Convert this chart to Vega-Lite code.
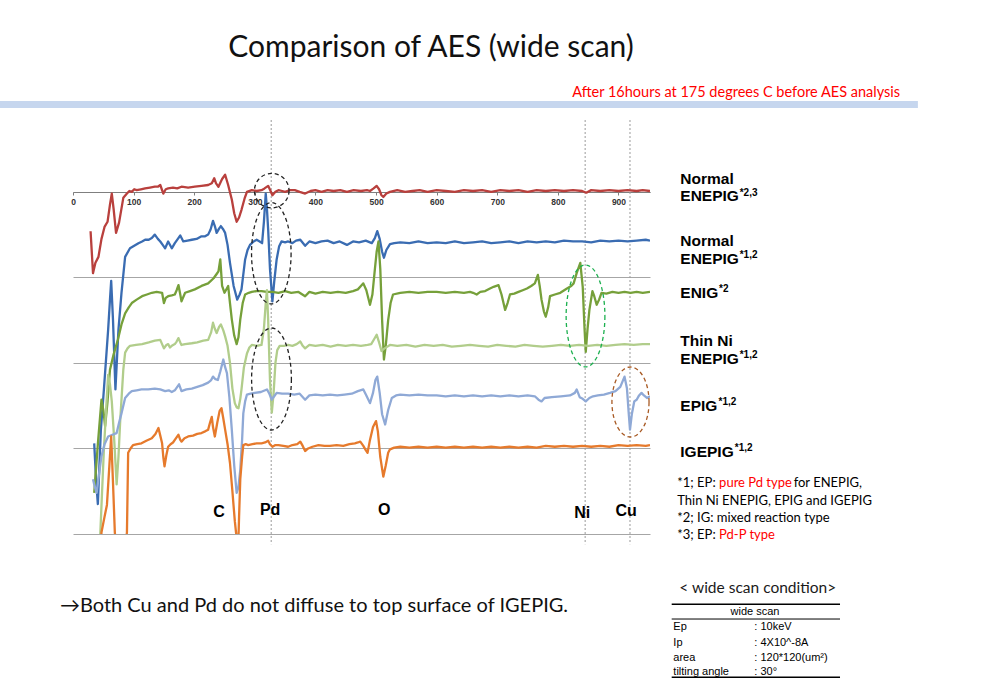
{
"$schema":"https://vega.github.io/schema/vega-lite/v6.json",
"autosize":{"type":"none"},
"width":577,"height":414,
"padding":{"left":73,"top":120,"right":348,"bottom":153},
"background":"white",
"config":{"view":{"stroke":null},"font":"Liberation Sans"},
"data":{"values":[{}]},
"resolve":{"axis":{"x":"independent","y":"independent"}},
"datasets":{
"curves":[
{"s":"NE23","x":29,"y":-0.46},{"s":"NE23","x":33,"y":-0.95},{"s":"NE23","x":37,"y":-0.83},{"s":"NE23","x":42,"y":-0.76},{"s":"NE23","x":47,"y":-0.55},{"s":"NE23","x":52,"y":-0.41},{"s":"NE23","x":57,"y":-0.35},{"s":"NE23","x":61,"y":-0.15},{"s":"NE23","x":64,"y":-0.02},{"s":"NE23","x":67,"y":-0.2},{"s":"NE23","x":71,"y":-0.48},{"s":"NE23","x":76,"y":-0.36},{"s":"NE23","x":83,"y":-0.07},{"s":"NE23","x":89,"y":-0.02},{"s":"NE23","x":93,"y":0.01},{"s":"NE23","x":97,"y":0.0},{"s":"NE23","x":101,"y":0.03},{"s":"NE23","x":105,"y":0.02},{"s":"NE23","x":112,"y":0.03},{"s":"NE23","x":119,"y":0.04},{"s":"NE23","x":127,"y":0.05},{"s":"NE23","x":135,"y":0.06},{"s":"NE23","x":140,"y":0.06},{"s":"NE23","x":144,"y":0.08},{"s":"NE23","x":149,"y":-0.02},{"s":"NE23","x":153,"y":0.03},{"s":"NE23","x":157,"y":0.04},{"s":"NE23","x":165,"y":0.05},{"s":"NE23","x":172,"y":0.04},{"s":"NE23","x":179,"y":0.06},{"s":"NE23","x":190,"y":0.05},{"s":"NE23","x":201,"y":0.06},{"s":"NE23","x":212,"y":0.07},{"s":"NE23","x":223,"y":0.08},{"s":"NE23","x":229,"y":0.1},{"s":"NE23","x":233,"y":0.16},{"s":"NE23","x":236,"y":0.1},{"s":"NE23","x":240,"y":0.06},{"s":"NE23","x":246,"y":0.15},{"s":"NE23","x":251,"y":0.2},{"s":"NE23","x":256,"y":0.08},{"s":"NE23","x":262,"y":-0.09},{"s":"NE23","x":266,"y":-0.25},{"s":"NE23","x":270,"y":-0.35},{"s":"NE23","x":274,"y":-0.3},{"s":"NE23","x":278,"y":-0.21},{"s":"NE23","x":283,"y":-0.08},{"s":"NE23","x":287,"y":0.0},{"s":"NE23","x":295,"y":0.02},{"s":"NE23","x":303,"y":0.01},{"s":"NE23","x":311,"y":0.02},{"s":"NE23","x":316,"y":0.04},{"s":"NE23","x":322,"y":0.07},{"s":"NE23","x":326,"y":0.01},{"s":"NE23","x":329,"y":-0.04},{"s":"NE23","x":334,"y":0.0},{"s":"NE23","x":339,"y":0.02},{"s":"NE23","x":345,"y":0.01},{"s":"NE23","x":350,"y":0.0},{"s":"NE23","x":358,"y":0.02},{"s":"NE23","x":366,"y":0.02},{"s":"NE23","x":374,"y":0.0},{"s":"NE23","x":383,"y":-0.02},{"s":"NE23","x":392,"y":0.01},{"s":"NE23","x":400,"y":0.02},{"s":"NE23","x":410,"y":0.0},{"s":"NE23","x":420,"y":0.02},{"s":"NE23","x":430,"y":0.01},{"s":"NE23","x":441,"y":0.02},{"s":"NE23","x":452,"y":0.0},{"s":"NE23","x":463,"y":0.02},{"s":"NE23","x":475,"y":0.01},{"s":"NE23","x":485,"y":0.02},{"s":"NE23","x":490,"y":0.01},{"s":"NE23","x":496,"y":0.04},{"s":"NE23","x":501,"y":0.07},{"s":"NE23","x":505,"y":0.03},{"s":"NE23","x":509,"y":-0.04},{"s":"NE23","x":512,"y":-0.06},{"s":"NE23","x":517,"y":-0.02},{"s":"NE23","x":523,"y":0.0},{"s":"NE23","x":535,"y":0.02},{"s":"NE23","x":548,"y":0.0},{"s":"NE23","x":560,"y":0.01},{"s":"NE23","x":572,"y":0.02},{"s":"NE23","x":585,"y":0.0},{"s":"NE23","x":600,"y":0.02},{"s":"NE23","x":615,"y":0.01},{"s":"NE23","x":630,"y":0.0},{"s":"NE23","x":645,"y":0.02},{"s":"NE23","x":660,"y":0.01},{"s":"NE23","x":675,"y":0.02},{"s":"NE23","x":690,"y":0.0},{"s":"NE23","x":705,"y":0.02},{"s":"NE23","x":720,"y":0.01},{"s":"NE23","x":735,"y":0.02},{"s":"NE23","x":750,"y":0.0},{"s":"NE23","x":765,"y":0.02},{"s":"NE23","x":780,"y":0.01},{"s":"NE23","x":795,"y":0.02},{"s":"NE23","x":810,"y":0.01},{"s":"NE23","x":825,"y":0.02},{"s":"NE23","x":840,"y":0.01},{"s":"NE23","x":847,"y":-0.01},{"s":"NE23","x":855,"y":0.02},{"s":"NE23","x":870,"y":0.01},{"s":"NE23","x":885,"y":0.02},{"s":"NE23","x":900,"y":0.01},{"s":"NE23","x":915,"y":0.02},{"s":"NE23","x":930,"y":0.01},{"s":"NE23","x":940,"y":0.02},{"s":"NE23","x":952,"y":0.01},
{"s":"NE12","x":35,"y":-2.94},{"s":"NE12","x":38,"y":-3.36},{"s":"NE12","x":41,"y":-3.65},{"s":"NE12","x":46,"y":-2.78},{"s":"NE12","x":51,"y":-2.31},{"s":"NE12","x":58,"y":-1.61},{"s":"NE12","x":61,"y":-1.26},{"s":"NE12","x":63,"y":-1.04},{"s":"NE12","x":66,"y":-1.5},{"s":"NE12","x":70,"y":-2.31},{"s":"NE12","x":75,"y":-1.61},{"s":"NE12","x":80,"y":-1.18},{"s":"NE12","x":86,"y":-0.76},{"s":"NE12","x":94,"y":-0.66},{"s":"NE12","x":101,"y":-0.63},{"s":"NE12","x":108,"y":-0.6},{"s":"NE12","x":114,"y":-0.58},{"s":"NE12","x":119,"y":-0.56},{"s":"NE12","x":125,"y":-0.56},{"s":"NE12","x":130,"y":-0.54},{"s":"NE12","x":135,"y":-0.5},{"s":"NE12","x":140,"y":-0.55},{"s":"NE12","x":144,"y":-0.58},{"s":"NE12","x":148,"y":-0.62},{"s":"NE12","x":152,"y":-0.66},{"s":"NE12","x":157,"y":-0.58},{"s":"NE12","x":163,"y":-0.66},{"s":"NE12","x":168,"y":-0.6},{"s":"NE12","x":173,"y":-0.55},{"s":"NE12","x":177,"y":-0.51},{"s":"NE12","x":182,"y":-0.58},{"s":"NE12","x":189,"y":-0.57},{"s":"NE12","x":196,"y":-0.56},{"s":"NE12","x":204,"y":-0.55},{"s":"NE12","x":212,"y":-0.52},{"s":"NE12","x":218,"y":-0.52},{"s":"NE12","x":223,"y":-0.5},{"s":"NE12","x":227,"y":-0.44},{"s":"NE12","x":231,"y":-0.34},{"s":"NE12","x":234,"y":-0.4},{"s":"NE12","x":237,"y":-0.48},{"s":"NE12","x":241,"y":-0.43},{"s":"NE12","x":244,"y":-0.4},{"s":"NE12","x":248,"y":-0.44},{"s":"NE12","x":251,"y":-0.48},{"s":"NE12","x":255,"y":-0.62},{"s":"NE12","x":259,"y":-0.83},{"s":"NE12","x":265,"y":-1.1},{"s":"NE12","x":271,"y":-1.26},{"s":"NE12","x":275,"y":-1.2},{"s":"NE12","x":278,"y":-1.14},{"s":"NE12","x":284,"y":-0.79},{"s":"NE12","x":288,"y":-0.68},{"s":"NE12","x":292,"y":-0.62},{"s":"NE12","x":298,"y":-0.58},{"s":"NE12","x":303,"y":-0.56},{"s":"NE12","x":308,"y":-0.58},{"s":"NE12","x":312,"y":-0.6},{"s":"NE12","x":315,"y":-0.35},{"s":"NE12","x":318,"y":-0.02},{"s":"NE12","x":320,"y":-0.2},{"s":"NE12","x":322,"y":-0.44},{"s":"NE12","x":325,"y":-0.9},{"s":"NE12","x":329,"y":-1.28},{"s":"NE12","x":332,"y":-1.05},{"s":"NE12","x":336,"y":-0.79},{"s":"NE12","x":340,"y":-0.64},{"s":"NE12","x":344,"y":-0.58},{"s":"NE12","x":350,"y":-0.59},{"s":"NE12","x":355,"y":-0.58},{"s":"NE12","x":362,"y":-0.6},{"s":"NE12","x":368,"y":-0.57},{"s":"NE12","x":375,"y":-0.56},{"s":"NE12","x":383,"y":-0.63},{"s":"NE12","x":390,"y":-0.58},{"s":"NE12","x":400,"y":-0.6},{"s":"NE12","x":410,"y":-0.58},{"s":"NE12","x":420,"y":-0.57},{"s":"NE12","x":430,"y":-0.6},{"s":"NE12","x":440,"y":-0.58},{"s":"NE12","x":452,"y":-0.62},{"s":"NE12","x":462,"y":-0.58},{"s":"NE12","x":472,"y":-0.59},{"s":"NE12","x":483,"y":-0.57},{"s":"NE12","x":493,"y":-0.6},{"s":"NE12","x":498,"y":-0.54},{"s":"NE12","x":502,"y":-0.46},{"s":"NE12","x":506,"y":-0.55},{"s":"NE12","x":510,"y":-0.7},{"s":"NE12","x":513,"y":-0.77},{"s":"NE12","x":517,"y":-0.68},{"s":"NE12","x":523,"y":-0.61},{"s":"NE12","x":530,"y":-0.6},{"s":"NE12","x":540,"y":-0.59},{"s":"NE12","x":555,"y":-0.6},{"s":"NE12","x":570,"y":-0.58},{"s":"NE12","x":585,"y":-0.6},{"s":"NE12","x":600,"y":-0.59},{"s":"NE12","x":615,"y":-0.6},{"s":"NE12","x":630,"y":-0.58},{"s":"NE12","x":645,"y":-0.6},{"s":"NE12","x":660,"y":-0.59},{"s":"NE12","x":675,"y":-0.58},{"s":"NE12","x":690,"y":-0.6},{"s":"NE12","x":705,"y":-0.59},{"s":"NE12","x":720,"y":-0.58},{"s":"NE12","x":735,"y":-0.6},{"s":"NE12","x":750,"y":-0.58},{"s":"NE12","x":765,"y":-0.59},{"s":"NE12","x":780,"y":-0.58},{"s":"NE12","x":795,"y":-0.59},{"s":"NE12","x":810,"y":-0.57},{"s":"NE12","x":825,"y":-0.58},{"s":"NE12","x":840,"y":-0.58},{"s":"NE12","x":855,"y":-0.59},{"s":"NE12","x":870,"y":-0.57},{"s":"NE12","x":885,"y":-0.58},{"s":"NE12","x":900,"y":-0.57},{"s":"NE12","x":915,"y":-0.58},{"s":"NE12","x":930,"y":-0.57},{"s":"NE12","x":945,"y":-0.56},{"s":"NE12","x":952,"y":-0.57},
{"s":"ENIG","x":35,"y":-3.52},{"s":"ENIG","x":41,"y":-2.95},{"s":"ENIG","x":47,"y":-2.43},{"s":"ENIG","x":50,"y":-2.55},{"s":"ENIG","x":53,"y":-2.74},{"s":"ENIG","x":57,"y":-2.45},{"s":"ENIG","x":61,"y":-2.08},{"s":"ENIG","x":67,"y":-1.9},{"s":"ENIG","x":74,"y":-1.73},{"s":"ENIG","x":80,"y":-1.55},{"s":"ENIG","x":86,"y":-1.42},{"s":"ENIG","x":92,"y":-1.35},{"s":"ENIG","x":97,"y":-1.3},{"s":"ENIG","x":105,"y":-1.26},{"s":"ENIG","x":114,"y":-1.22},{"s":"ENIG","x":122,"y":-1.2},{"s":"ENIG","x":130,"y":-1.18},{"s":"ENIG","x":138,"y":-1.17},{"s":"ENIG","x":147,"y":-1.18},{"s":"ENIG","x":150,"y":-1.3},{"s":"ENIG","x":153,"y":-1.24},{"s":"ENIG","x":157,"y":-1.22},{"s":"ENIG","x":163,"y":-1.21},{"s":"ENIG","x":168,"y":-1.2},{"s":"ENIG","x":171,"y":-1.15},{"s":"ENIG","x":174,"y":-1.09},{"s":"ENIG","x":177,"y":-1.2},{"s":"ENIG","x":179,"y":-1.28},{"s":"ENIG","x":182,"y":-1.23},{"s":"ENIG","x":185,"y":-1.18},{"s":"ENIG","x":193,"y":-1.16},{"s":"ENIG","x":201,"y":-1.14},{"s":"ENIG","x":212,"y":-1.1},{"s":"ENIG","x":223,"y":-1.07},{"s":"ENIG","x":232,"y":-1.01},{"s":"ENIG","x":237,"y":-0.96},{"s":"ENIG","x":240,"y":-0.93},{"s":"ENIG","x":243,"y":-0.79},{"s":"ENIG","x":246,"y":-1.1},{"s":"ENIG","x":250,"y":-1.18},{"s":"ENIG","x":256,"y":-1.1},{"s":"ENIG","x":259,"y":-1.3},{"s":"ENIG","x":262,"y":-1.49},{"s":"ENIG","x":266,"y":-1.68},{"s":"ENIG","x":270,"y":-1.78},{"s":"ENIG","x":273,"y":-1.7},{"s":"ENIG","x":276,"y":-1.49},{"s":"ENIG","x":280,"y":-1.3},{"s":"ENIG","x":284,"y":-1.2},{"s":"ENIG","x":290,"y":-1.18},{"s":"ENIG","x":295,"y":-1.17},{"s":"ENIG","x":303,"y":-1.16},{"s":"ENIG","x":311,"y":-1.16},{"s":"ENIG","x":320,"y":-1.17},{"s":"ENIG","x":329,"y":-1.17},{"s":"ENIG","x":339,"y":-1.18},{"s":"ENIG","x":350,"y":-1.16},{"s":"ENIG","x":360,"y":-1.18},{"s":"ENIG","x":372,"y":-1.17},{"s":"ENIG","x":383,"y":-1.22},{"s":"ENIG","x":390,"y":-1.17},{"s":"ENIG","x":400,"y":-1.19},{"s":"ENIG","x":412,"y":-1.17},{"s":"ENIG","x":425,"y":-1.18},{"s":"ENIG","x":437,"y":-1.17},{"s":"ENIG","x":450,"y":-1.18},{"s":"ENIG","x":462,"y":-1.16},{"s":"ENIG","x":470,"y":-1.14},{"s":"ENIG","x":475,"y":-1.1},{"s":"ENIG","x":479,"y":-1.07},{"s":"ENIG","x":484,"y":-1.15},{"s":"ENIG","x":490,"y":-1.32},{"s":"ENIG","x":494,"y":-1.2},{"s":"ENIG","x":498,"y":-0.91},{"s":"ENIG","x":501,"y":-0.7},{"s":"ENIG","x":504,"y":-0.58},{"s":"ENIG","x":507,"y":-0.9},{"s":"ENIG","x":510,"y":-1.5},{"s":"ENIG","x":513,"y":-1.96},{"s":"ENIG","x":516,"y":-1.8},{"s":"ENIG","x":520,"y":-1.5},{"s":"ENIG","x":524,"y":-1.3},{"s":"ENIG","x":528,"y":-1.2},{"s":"ENIG","x":540,"y":-1.18},{"s":"ENIG","x":555,"y":-1.17},{"s":"ENIG","x":570,"y":-1.18},{"s":"ENIG","x":585,"y":-1.17},{"s":"ENIG","x":600,"y":-1.17},{"s":"ENIG","x":615,"y":-1.18},{"s":"ENIG","x":630,"y":-1.17},{"s":"ENIG","x":645,"y":-1.18},{"s":"ENIG","x":655,"y":-1.17},{"s":"ENIG","x":660,"y":-1.18},{"s":"ENIG","x":666,"y":-1.2},{"s":"ENIG","x":672,"y":-1.17},{"s":"ENIG","x":680,"y":-1.16},{"s":"ENIG","x":688,"y":-1.13},{"s":"ENIG","x":694,"y":-1.11},{"s":"ENIG","x":702,"y":-1.09},{"s":"ENIG","x":707,"y":-1.2},{"s":"ENIG","x":713,"y":-1.38},{"s":"ENIG","x":717,"y":-1.3},{"s":"ENIG","x":721,"y":-1.2},{"s":"ENIG","x":728,"y":-1.19},{"s":"ENIG","x":735,"y":-1.17},{"s":"ENIG","x":742,"y":-1.15},{"s":"ENIG","x":749,"y":-1.13},{"s":"ENIG","x":756,"y":-1.1},{"s":"ENIG","x":762,"y":-1.07},{"s":"ENIG","x":767,"y":-0.97},{"s":"ENIG","x":770,"y":-1.1},{"s":"ENIG","x":773,"y":-1.26},{"s":"ENIG","x":777,"y":-1.4},{"s":"ENIG","x":780,"y":-1.46},{"s":"ENIG","x":784,"y":-1.35},{"s":"ENIG","x":787,"y":-1.22},{"s":"ENIG","x":795,"y":-1.2},{"s":"ENIG","x":804,"y":-1.18},{"s":"ENIG","x":815,"y":-1.13},{"s":"ENIG","x":822,"y":-1.1},{"s":"ENIG","x":826,"y":-1.07},{"s":"ENIG","x":831,"y":-0.95},{"s":"ENIG","x":837,"y":-0.83},{"s":"ENIG","x":841,"y":-1.11},{"s":"ENIG","x":844,"y":-1.6},{"s":"ENIG","x":846,"y":-1.87},{"s":"ENIG","x":849,"y":-1.6},{"s":"ENIG","x":852,"y":-1.38},{"s":"ENIG","x":857,"y":-1.16},{"s":"ENIG","x":860,"y":-1.22},{"s":"ENIG","x":864,"y":-1.32},{"s":"ENIG","x":868,"y":-1.26},{"s":"ENIG","x":872,"y":-1.18},{"s":"ENIG","x":880,"y":-1.19},{"s":"ENIG","x":890,"y":-1.17},{"s":"ENIG","x":900,"y":-1.18},{"s":"ENIG","x":910,"y":-1.17},{"s":"ENIG","x":920,"y":-1.18},{"s":"ENIG","x":930,"y":-1.17},{"s":"ENIG","x":940,"y":-1.18},{"s":"ENIG","x":952,"y":-1.17},
{"s":"TN","x":43,"y":-4.3},{"s":"TN","x":45,"y":-4.0},{"s":"TN","x":48,"y":-3.5},{"s":"TN","x":51,"y":-3.01},{"s":"TN","x":55,"y":-2.5},{"s":"TN","x":58,"y":-2.14},{"s":"TN","x":61,"y":-2.25},{"s":"TN","x":64,"y":-2.45},{"s":"TN","x":68,"y":-2.9},{"s":"TN","x":72,"y":-3.42},{"s":"TN","x":75,"y":-3.1},{"s":"TN","x":78,"y":-2.66},{"s":"TN","x":83,"y":-2.08},{"s":"TN","x":86,"y":-1.88},{"s":"TN","x":90,"y":-1.83},{"s":"TN","x":94,"y":-1.8},{"s":"TN","x":104,"y":-1.79},{"s":"TN","x":114,"y":-1.78},{"s":"TN","x":125,"y":-1.76},{"s":"TN","x":135,"y":-1.74},{"s":"TN","x":144,"y":-1.73},{"s":"TN","x":147,"y":-1.78},{"s":"TN","x":150,"y":-1.83},{"s":"TN","x":154,"y":-1.79},{"s":"TN","x":157,"y":-1.78},{"s":"TN","x":160,"y":-1.82},{"s":"TN","x":163,"y":-1.8},{"s":"TN","x":168,"y":-1.78},{"s":"TN","x":171,"y":-1.75},{"s":"TN","x":174,"y":-1.71},{"s":"TN","x":177,"y":-1.76},{"s":"TN","x":179,"y":-1.79},{"s":"TN","x":185,"y":-1.78},{"s":"TN","x":196,"y":-1.77},{"s":"TN","x":205,"y":-1.76},{"s":"TN","x":215,"y":-1.74},{"s":"TN","x":223,"y":-1.73},{"s":"TN","x":228,"y":-1.64},{"s":"TN","x":231,"y":-1.53},{"s":"TN","x":234,"y":-1.6},{"s":"TN","x":237,"y":-1.65},{"s":"TN","x":241,"y":-1.58},{"s":"TN","x":244,"y":-1.55},{"s":"TN","x":248,"y":-1.62},{"s":"TN","x":251,"y":-1.69},{"s":"TN","x":255,"y":-1.8},{"s":"TN","x":259,"y":-2.0},{"s":"TN","x":263,"y":-2.3},{"s":"TN","x":267,"y":-2.47},{"s":"TN","x":270,"y":-2.52},{"s":"TN","x":273,"y":-2.53},{"s":"TN","x":276,"y":-2.42},{"s":"TN","x":278,"y":-2.31},{"s":"TN","x":282,"y":-2.05},{"s":"TN","x":287,"y":-1.89},{"s":"TN","x":291,"y":-1.82},{"s":"TN","x":295,"y":-1.79},{"s":"TN","x":303,"y":-1.8},{"s":"TN","x":311,"y":-1.79},{"s":"TN","x":315,"y":-1.6},{"s":"TN","x":318,"y":-1.3},{"s":"TN","x":320,"y":-1.15},{"s":"TN","x":322,"y":-1.5},{"s":"TN","x":325,"y":-2.2},{"s":"TN","x":328,"y":-2.58},{"s":"TN","x":331,"y":-2.35},{"s":"TN","x":334,"y":-2.0},{"s":"TN","x":337,"y":-1.85},{"s":"TN","x":341,"y":-1.8},{"s":"TN","x":348,"y":-1.8},{"s":"TN","x":355,"y":-1.79},{"s":"TN","x":362,"y":-1.8},{"s":"TN","x":369,"y":-1.78},{"s":"TN","x":375,"y":-1.75},{"s":"TN","x":379,"y":-1.8},{"s":"TN","x":383,"y":-1.83},{"s":"TN","x":390,"y":-1.79},{"s":"TN","x":400,"y":-1.8},{"s":"TN","x":412,"y":-1.79},{"s":"TN","x":425,"y":-1.81},{"s":"TN","x":437,"y":-1.79},{"s":"TN","x":450,"y":-1.8},{"s":"TN","x":462,"y":-1.79},{"s":"TN","x":475,"y":-1.8},{"s":"TN","x":486,"y":-1.79},{"s":"TN","x":492,"y":-1.78},{"s":"TN","x":497,"y":-1.72},{"s":"TN","x":501,"y":-1.67},{"s":"TN","x":505,"y":-1.76},{"s":"TN","x":509,"y":-1.86},{"s":"TN","x":514,"y":-1.83},{"s":"TN","x":523,"y":-1.79},{"s":"TN","x":535,"y":-1.8},{"s":"TN","x":550,"y":-1.79},{"s":"TN","x":565,"y":-1.81},{"s":"TN","x":580,"y":-1.79},{"s":"TN","x":595,"y":-1.8},{"s":"TN","x":610,"y":-1.79},{"s":"TN","x":625,"y":-1.81},{"s":"TN","x":640,"y":-1.8},{"s":"TN","x":655,"y":-1.79},{"s":"TN","x":670,"y":-1.8},{"s":"TN","x":685,"y":-1.81},{"s":"TN","x":700,"y":-1.79},{"s":"TN","x":715,"y":-1.8},{"s":"TN","x":730,"y":-1.81},{"s":"TN","x":745,"y":-1.79},{"s":"TN","x":760,"y":-1.8},{"s":"TN","x":775,"y":-1.81},{"s":"TN","x":790,"y":-1.8},{"s":"TN","x":805,"y":-1.79},{"s":"TN","x":820,"y":-1.8},{"s":"TN","x":835,"y":-1.79},{"s":"TN","x":850,"y":-1.8},{"s":"TN","x":865,"y":-1.79},{"s":"TN","x":880,"y":-1.8},{"s":"TN","x":895,"y":-1.79},{"s":"TN","x":910,"y":-1.78},{"s":"TN","x":925,"y":-1.79},{"s":"TN","x":940,"y":-1.78},{"s":"TN","x":952,"y":-1.78},
{"s":"EPIG","x":33,"y":-3.36},{"s":"EPIG","x":36,"y":-3.45},{"s":"EPIG","x":39,"y":-3.52},{"s":"EPIG","x":43,"y":-3.3},{"s":"EPIG","x":47,"y":-3.09},{"s":"EPIG","x":52,"y":-2.95},{"s":"EPIG","x":58,"y":-2.86},{"s":"EPIG","x":65,"y":-2.84},{"s":"EPIG","x":72,"y":-2.82},{"s":"EPIG","x":76,"y":-2.7},{"s":"EPIG","x":80,"y":-2.59},{"s":"EPIG","x":86,"y":-2.41},{"s":"EPIG","x":92,"y":-2.36},{"s":"EPIG","x":97,"y":-2.33},{"s":"EPIG","x":105,"y":-2.32},{"s":"EPIG","x":113,"y":-2.31},{"s":"EPIG","x":124,"y":-2.31},{"s":"EPIG","x":135,"y":-2.3},{"s":"EPIG","x":144,"y":-2.31},{"s":"EPIG","x":152,"y":-2.33},{"s":"EPIG","x":158,"y":-2.32},{"s":"EPIG","x":163,"y":-2.34},{"s":"EPIG","x":168,"y":-2.32},{"s":"EPIG","x":172,"y":-2.28},{"s":"EPIG","x":175,"y":-2.25},{"s":"EPIG","x":179,"y":-2.33},{"s":"EPIG","x":187,"y":-2.31},{"s":"EPIG","x":196,"y":-2.3},{"s":"EPIG","x":205,"y":-2.28},{"s":"EPIG","x":214,"y":-2.26},{"s":"EPIG","x":223,"y":-2.23},{"s":"EPIG","x":228,"y":-2.2},{"s":"EPIG","x":231,"y":-2.16},{"s":"EPIG","x":235,"y":-2.19},{"s":"EPIG","x":239,"y":-2.2},{"s":"EPIG","x":243,"y":-2.1},{"s":"EPIG","x":248,"y":-1.96},{"s":"EPIG","x":251,"y":-2.05},{"s":"EPIG","x":254,"y":-2.12},{"s":"EPIG","x":258,"y":-2.4},{"s":"EPIG","x":262,"y":-2.78},{"s":"EPIG","x":266,"y":-3.2},{"s":"EPIG","x":270,"y":-3.52},{"s":"EPIG","x":273,"y":-3.45},{"s":"EPIG","x":276,"y":-3.25},{"s":"EPIG","x":279,"y":-2.9},{"s":"EPIG","x":281,"y":-2.59},{"s":"EPIG","x":284,"y":-2.45},{"s":"EPIG","x":287,"y":-2.37},{"s":"EPIG","x":293,"y":-2.36},{"s":"EPIG","x":300,"y":-2.35},{"s":"EPIG","x":310,"y":-2.34},{"s":"EPIG","x":320,"y":-2.31},{"s":"EPIG","x":324,"y":-2.36},{"s":"EPIG","x":328,"y":-2.43},{"s":"EPIG","x":332,"y":-2.39},{"s":"EPIG","x":336,"y":-2.35},{"s":"EPIG","x":345,"y":-2.36},{"s":"EPIG","x":355,"y":-2.36},{"s":"EPIG","x":365,"y":-2.37},{"s":"EPIG","x":374,"y":-2.36},{"s":"EPIG","x":383,"y":-2.43},{"s":"EPIG","x":390,"y":-2.38},{"s":"EPIG","x":400,"y":-2.37},{"s":"EPIG","x":412,"y":-2.38},{"s":"EPIG","x":424,"y":-2.37},{"s":"EPIG","x":436,"y":-2.38},{"s":"EPIG","x":448,"y":-2.37},{"s":"EPIG","x":460,"y":-2.36},{"s":"EPIG","x":470,"y":-2.33},{"s":"EPIG","x":479,"y":-2.31},{"s":"EPIG","x":484,"y":-2.38},{"s":"EPIG","x":490,"y":-2.47},{"s":"EPIG","x":495,"y":-2.35},{"s":"EPIG","x":499,"y":-2.2},{"s":"EPIG","x":502,"y":-2.16},{"s":"EPIG","x":506,"y":-2.35},{"s":"EPIG","x":510,"y":-2.6},{"s":"EPIG","x":515,"y":-2.72},{"s":"EPIG","x":520,"y":-2.55},{"s":"EPIG","x":526,"y":-2.41},{"s":"EPIG","x":533,"y":-2.38},{"s":"EPIG","x":540,"y":-2.37},{"s":"EPIG","x":555,"y":-2.38},{"s":"EPIG","x":570,"y":-2.37},{"s":"EPIG","x":585,"y":-2.38},{"s":"EPIG","x":600,"y":-2.38},{"s":"EPIG","x":615,"y":-2.39},{"s":"EPIG","x":630,"y":-2.38},{"s":"EPIG","x":645,"y":-2.39},{"s":"EPIG","x":660,"y":-2.38},{"s":"EPIG","x":675,"y":-2.39},{"s":"EPIG","x":690,"y":-2.38},{"s":"EPIG","x":705,"y":-2.39},{"s":"EPIG","x":720,"y":-2.38},{"s":"EPIG","x":735,"y":-2.39},{"s":"EPIG","x":750,"y":-2.38},{"s":"EPIG","x":762,"y":-2.39},{"s":"EPIG","x":768,"y":-2.43},{"s":"EPIG","x":773,"y":-2.45},{"s":"EPIG","x":778,"y":-2.41},{"s":"EPIG","x":790,"y":-2.4},{"s":"EPIG","x":805,"y":-2.39},{"s":"EPIG","x":820,"y":-2.38},{"s":"EPIG","x":828,"y":-2.35},{"s":"EPIG","x":831,"y":-2.31},{"s":"EPIG","x":836,"y":-2.4},{"s":"EPIG","x":841,"y":-2.42},{"s":"EPIG","x":846,"y":-2.45},{"s":"EPIG","x":852,"y":-2.41},{"s":"EPIG","x":858,"y":-2.39},{"s":"EPIG","x":866,"y":-2.38},{"s":"EPIG","x":876,"y":-2.37},{"s":"EPIG","x":886,"y":-2.35},{"s":"EPIG","x":895,"y":-2.33},{"s":"EPIG","x":903,"y":-2.28},{"s":"EPIG","x":910,"y":-2.16},{"s":"EPIG","x":914,"y":-2.3},{"s":"EPIG","x":917,"y":-2.6},{"s":"EPIG","x":919,"y":-2.78},{"s":"EPIG","x":922,"y":-2.6},{"s":"EPIG","x":926,"y":-2.45},{"s":"EPIG","x":930,"y":-2.43},{"s":"EPIG","x":934,"y":-2.38},{"s":"EPIG","x":938,"y":-2.35},{"s":"EPIG","x":942,"y":-2.38},{"s":"EPIG","x":947,"y":-2.41},{"s":"EPIG","x":952,"y":-2.39},
{"s":"IG","x":45,"y":-4.3},{"s":"IG","x":47,"y":-3.98},{"s":"IG","x":52,"y":-3.8},{"s":"IG","x":56,"y":-3.66},{"s":"IG","x":60,"y":-3.2},{"s":"IG","x":63,"y":-2.86},{"s":"IG","x":66,"y":-3.4},{"s":"IG","x":69,"y":-3.98},{"s":"IG","x":73,"y":-4.3},{"s":"IG","x":84,"y":-4.3},{"s":"IG","x":89,"y":-3.98},{"s":"IG","x":91,"y":-3.05},{"s":"IG","x":95,"y":-3.0},{"s":"IG","x":99,"y":-2.96},{"s":"IG","x":106,"y":-2.95},{"s":"IG","x":113,"y":-2.94},{"s":"IG","x":121,"y":-2.91},{"s":"IG","x":130,"y":-2.88},{"s":"IG","x":136,"y":-2.83},{"s":"IG","x":141,"y":-2.76},{"s":"IG","x":144,"y":-2.85},{"s":"IG","x":147,"y":-2.94},{"s":"IG","x":149,"y":-3.1},{"s":"IG","x":151,"y":-3.21},{"s":"IG","x":154,"y":-3.08},{"s":"IG","x":157,"y":-2.98},{"s":"IG","x":161,"y":-2.95},{"s":"IG","x":165,"y":-2.93},{"s":"IG","x":170,"y":-2.88},{"s":"IG","x":174,"y":-2.84},{"s":"IG","x":177,"y":-2.9},{"s":"IG","x":179,"y":-2.92},{"s":"IG","x":184,"y":-2.88},{"s":"IG","x":190,"y":-2.86},{"s":"IG","x":198,"y":-2.85},{"s":"IG","x":205,"y":-2.83},{"s":"IG","x":212,"y":-2.82},{"s":"IG","x":218,"y":-2.8},{"s":"IG","x":223,"y":-2.78},{"s":"IG","x":226,"y":-2.7},{"s":"IG","x":229,"y":-2.63},{"s":"IG","x":231,"y":-2.75},{"s":"IG","x":234,"y":-2.86},{"s":"IG","x":238,"y":-2.7},{"s":"IG","x":242,"y":-2.56},{"s":"IG","x":245,"y":-2.53},{"s":"IG","x":248,"y":-2.65},{"s":"IG","x":251,"y":-2.78},{"s":"IG","x":255,"y":-2.95},{"s":"IG","x":259,"y":-3.17},{"s":"IG","x":263,"y":-3.5},{"s":"IG","x":267,"y":-3.85},{"s":"IG","x":270,"y":-4.05},{"s":"IG","x":272,"y":-4.3},{"s":"IG","x":274,"y":-3.8},{"s":"IG","x":276,"y":-3.36},{"s":"IG","x":279,"y":-3.1},{"s":"IG","x":281,"y":-2.96},{"s":"IG","x":285,"y":-2.95},{"s":"IG","x":289,"y":-2.96},{"s":"IG","x":296,"y":-2.95},{"s":"IG","x":303,"y":-2.94},{"s":"IG","x":311,"y":-2.94},{"s":"IG","x":317,"y":-2.93},{"s":"IG","x":322,"y":-2.91},{"s":"IG","x":325,"y":-2.95},{"s":"IG","x":329,"y":-2.98},{"s":"IG","x":334,"y":-2.96},{"s":"IG","x":339,"y":-2.96},{"s":"IG","x":347,"y":-2.97},{"s":"IG","x":355,"y":-2.98},{"s":"IG","x":362,"y":-2.96},{"s":"IG","x":370,"y":-2.95},{"s":"IG","x":375,"y":-2.92},{"s":"IG","x":379,"y":-2.97},{"s":"IG","x":383,"y":-3.03},{"s":"IG","x":388,"y":-3.0},{"s":"IG","x":395,"y":-2.98},{"s":"IG","x":405,"y":-2.96},{"s":"IG","x":415,"y":-2.97},{"s":"IG","x":424,"y":-2.97},{"s":"IG","x":435,"y":-2.96},{"s":"IG","x":446,"y":-2.97},{"s":"IG","x":456,"y":-2.95},{"s":"IG","x":465,"y":-2.94},{"s":"IG","x":470,"y":-2.93},{"s":"IG","x":474,"y":-2.92},{"s":"IG","x":479,"y":-2.97},{"s":"IG","x":483,"y":-3.02},{"s":"IG","x":486,"y":-3.05},{"s":"IG","x":490,"y":-2.9},{"s":"IG","x":495,"y":-2.75},{"s":"IG","x":500,"y":-2.68},{"s":"IG","x":503,"y":-2.8},{"s":"IG","x":507,"y":-3.1},{"s":"IG","x":512,"y":-3.33},{"s":"IG","x":516,"y":-3.2},{"s":"IG","x":520,"y":-3.05},{"s":"IG","x":523,"y":-3.01},{"s":"IG","x":530,"y":-2.99},{"s":"IG","x":540,"y":-2.98},{"s":"IG","x":555,"y":-2.99},{"s":"IG","x":570,"y":-2.98},{"s":"IG","x":585,"y":-2.99},{"s":"IG","x":600,"y":-2.98},{"s":"IG","x":615,"y":-2.99},{"s":"IG","x":630,"y":-2.98},{"s":"IG","x":645,"y":-2.99},{"s":"IG","x":660,"y":-2.98},{"s":"IG","x":675,"y":-2.99},{"s":"IG","x":690,"y":-2.98},{"s":"IG","x":705,"y":-2.99},{"s":"IG","x":720,"y":-2.98},{"s":"IG","x":735,"y":-2.99},{"s":"IG","x":750,"y":-2.98},{"s":"IG","x":765,"y":-2.99},{"s":"IG","x":780,"y":-2.97},{"s":"IG","x":795,"y":-2.98},{"s":"IG","x":810,"y":-2.97},{"s":"IG","x":825,"y":-2.98},{"s":"IG","x":840,"y":-2.97},{"s":"IG","x":855,"y":-2.98},{"s":"IG","x":870,"y":-2.97},{"s":"IG","x":885,"y":-2.98},{"s":"IG","x":900,"y":-2.96},{"s":"IG","x":915,"y":-2.97},{"s":"IG","x":930,"y":-2.96},{"s":"IG","x":945,"y":-2.97},{"s":"IG","x":952,"y":-2.96}
],
"peaks":[{"element":"Pd","line":327},{"element":"Ni","line":845},{"element":"Cu","line":919}]
},
"layer":[
{"mark":{"type":"rect","color":"#c6d6ee"},"encoding":{"x":{"datum":-121,"axis":null},"x2":{"datum":1394},"y":{"datum":1.062,"axis":null},"y2":{"datum":0.98}}},
{"data":{"name":"peaks"},"mark":{"type":"rule","color":"#9a9a9a","strokeWidth":1,"strokeDash":[2,2]},"encoding":{"x":{"field":"line","type":"quantitative","axis":null},"y":{"datum":0.84,"axis":null},"y2":{"datum":-4.12}}},
{"data":{"name":"curves"},"mark":{"type":"line","strokeWidth":2.3,"clip":true,"strokeJoin":"round"},
 "encoding":{
  "x":{"field":"x","type":"quantitative","scale":{"domain":[0,952],"nice":false,"zero":false},
       "axis":{"values":[0,100,200,300,400,500,600,700,800,900],"title":null,"grid":false,"offset":-342,"domainColor":"#7f7f7f","tickColor":"#7f7f7f","tickSize":3,"labelFontSize":8.5,"labelFontWeight":"bold","labelColor":"#333333","labelFont":"Liberation Sans","labelPadding":2,"labelFlush":false}},
  "y":{"field":"y","type":"quantitative","scale":{"domain":[-4,0.84],"nice":false,"zero":false},
       "axis":{"values":[-4,-3,-2,-1,0],"title":null,"grid":true,"gridColor":"#a6a6a6","gridWidth":1,"labels":false,"ticks":false,"domain":false}},
  "color":{"field":"s","type":"nominal","legend":null,
       "scale":{"domain":["NE23","NE12","ENIG","TN","EPIG","IG"],"range":["#b9403d","#3a6cb2","#76a03a","#b1cd8b","#8fa9d6","#e67a2c"]}}}},
{"mark":{"type":"point","shape":"circle","size":1195,"filled":false,"opacity":1,"stroke":"#222222","strokeWidth":1.3,"strokeDash":[4,3]},"encoding":{"x":{"datum":327.9,"axis":null},"y":{"datum":0.014,"axis":null}}},
{"mark":{"type":"point","shape":"M 0.39 0 C 0.39 0.5523 0.2154 1 0 1 C -0.2154 1 -0.39 0.5523 -0.39 0 C -0.39 -0.5523 -0.2154 -1 0 -1 C 0.2154 -1 0.39 -0.5523 0.39 0 Z","size":10282,"filled":false,"opacity":1,"stroke":"#222222","strokeWidth":1.3,"strokeDash":[4,3]},"encoding":{"x":{"datum":327.2,"axis":null},"y":{"datum":-0.718,"axis":null}}},
{"mark":{"type":"point","shape":"M 0.39 0 C 0.39 0.5523 0.2154 1 0 1 C -0.2154 1 -0.39 0.5523 -0.39 0 C -0.39 -0.5523 -0.2154 -1 0 -1 C 0.2154 -1 0.39 -0.5523 0.39 0 Z","size":10404,"filled":false,"opacity":1,"stroke":"#222222","strokeWidth":1.3,"strokeDash":[4,3]},"encoding":{"x":{"datum":327.5,"axis":null},"y":{"datum":-2.188,"axis":null}}},
{"mark":{"type":"point","shape":"M 0.38 0 C 0.38 0.5523 0.2099 1 0 1 C -0.2099 1 -0.38 0.5523 -0.38 0 C -0.38 -0.5523 -0.2099 -1 0 -1 C 0.2099 -1 0.38 -0.5523 0.38 0 Z","size":10404,"filled":false,"opacity":1,"stroke":"#1cb04f","strokeWidth":1.3,"strokeDash":[4,3]},"encoding":{"x":{"datum":845.6,"axis":null},"y":{"datum":-1.451,"axis":null}}},
{"mark":{"type":"point","shape":"M 0.53 0 C 0.53 0.5523 0.2927 1 0 1 C -0.2927 1 -0.53 0.5523 -0.53 0 C -0.53 -0.5523 -0.2927 -1 0 -1 C 0.2927 -1 0.53 -0.5523 0.53 0 Z","size":4900,"filled":false,"opacity":1,"stroke":"#a85a24","strokeWidth":1.3,"strokeDash":[4,3]},"encoding":{"x":{"datum":919.8,"axis":null},"y":{"datum":-2.457,"axis":null}}},
{"mark":{"type":"text","text":"Comparison of AES (wide scan)","align":"center","baseline":"middle","font":"Lato","fontSize":30,"color":"#111111"},"encoding":{"x":{"datum":590.7,"axis":null},"y":{"datum":1.682,"axis":null}}},
{"mark":{"type":"text","text":"After 16hours at 175 degrees C before AES analysis","align":"right","baseline":"middle","font":"Lato","fontSize":14.5,"color":"#ff0000"},"encoding":{"x":{"datum":1364.6,"axis":null},"y":{"datum":1.156,"axis":null}}},
{"mark":{"type":"text","text":"C","align":"center","baseline":"middle","fontSize":16,"fontWeight":"bold","color":"#000000"},"encoding":{"x":{"datum":240.9,"axis":null},"y":{"datum":-3.739,"axis":null}}},
{"mark":{"type":"text","text":"Pd","align":"center","baseline":"middle","fontSize":16,"fontWeight":"bold","color":"#000000"},"encoding":{"x":{"datum":325.2,"axis":null},"y":{"datum":-3.719,"axis":null}}},
{"mark":{"type":"text","text":"O","align":"center","baseline":"middle","fontSize":16,"fontWeight":"bold","color":"#000000"},"encoding":{"x":{"datum":513.6,"axis":null},"y":{"datum":-3.719,"axis":null}}},
{"mark":{"type":"text","text":"Ni","align":"center","baseline":"middle","fontSize":16,"fontWeight":"bold","color":"#000000"},"encoding":{"x":{"datum":840.1,"axis":null},"y":{"datum":-3.751,"axis":null}}},
{"mark":{"type":"text","text":"Cu","align":"center","baseline":"middle","fontSize":16,"fontWeight":"bold","color":"#000000"},"encoding":{"x":{"datum":912.5,"axis":null},"y":{"datum":-3.727,"axis":null}}},
{"mark":{"type":"text","text":"Normal","align":"left","baseline":"middle","fontSize":15.5,"fontWeight":"bold","color":"#000000"},"encoding":{"x":{"datum":1002,"axis":null},"y":{"datum":0.15,"axis":null}}},
{"mark":{"type":"text","text":"ENEPIG","align":"left","baseline":"middle","fontSize":15.5,"fontWeight":"bold","color":"#000000"},"encoding":{"x":{"datum":1002,"axis":null},"y":{"datum":-0.05,"axis":null}}},
{"mark":{"type":"text","text":"*2,3","align":"left","baseline":"middle","fontSize":10,"fontWeight":"bold","color":"#000000"},"encoding":{"x":{"datum":1100,"axis":null},"y":{"datum":-0.01,"axis":null}}},
{"mark":{"type":"text","text":"Normal","align":"left","baseline":"middle","fontSize":15.5,"fontWeight":"bold","color":"#000000"},"encoding":{"x":{"datum":1002,"axis":null},"y":{"datum":-0.57,"axis":null}}},
{"mark":{"type":"text","text":"ENEPIG","align":"left","baseline":"middle","fontSize":15.5,"fontWeight":"bold","color":"#000000"},"encoding":{"x":{"datum":1002,"axis":null},"y":{"datum":-0.78,"axis":null}}},
{"mark":{"type":"text","text":"*1,2","align":"left","baseline":"middle","fontSize":10,"fontWeight":"bold","color":"#000000"},"encoding":{"x":{"datum":1100,"axis":null},"y":{"datum":-0.74,"axis":null}}},
{"mark":{"type":"text","text":"ENIG","align":"left","baseline":"middle","fontSize":15.5,"fontWeight":"bold","color":"#000000"},"encoding":{"x":{"datum":1002,"axis":null},"y":{"datum":-1.18,"axis":null}}},
{"mark":{"type":"text","text":"*2","align":"left","baseline":"middle","fontSize":10,"fontWeight":"bold","color":"#000000"},"encoding":{"x":{"datum":1066,"axis":null},"y":{"datum":-1.14,"axis":null}}},
{"mark":{"type":"text","text":"Thin Ni","align":"left","baseline":"middle","fontSize":15.5,"fontWeight":"bold","color":"#000000"},"encoding":{"x":{"datum":1002,"axis":null},"y":{"datum":-1.74,"axis":null}}},
{"mark":{"type":"text","text":"ENEPIG","align":"left","baseline":"middle","fontSize":15.5,"fontWeight":"bold","color":"#000000"},"encoding":{"x":{"datum":1002,"axis":null},"y":{"datum":-1.95,"axis":null}}},
{"mark":{"type":"text","text":"*1,2","align":"left","baseline":"middle","fontSize":10,"fontWeight":"bold","color":"#000000"},"encoding":{"x":{"datum":1100,"axis":null},"y":{"datum":-1.91,"axis":null}}},
{"mark":{"type":"text","text":"EPIG","align":"left","baseline":"middle","fontSize":15.5,"fontWeight":"bold","color":"#000000"},"encoding":{"x":{"datum":1002,"axis":null},"y":{"datum":-2.5,"axis":null}}},
{"mark":{"type":"text","text":"*1,2","align":"left","baseline":"middle","fontSize":10,"fontWeight":"bold","color":"#000000"},"encoding":{"x":{"datum":1065,"axis":null},"y":{"datum":-2.46,"axis":null}}},
{"mark":{"type":"text","text":"IGEPIG","align":"left","baseline":"middle","fontSize":15.5,"fontWeight":"bold","color":"#000000"},"encoding":{"x":{"datum":1002,"axis":null},"y":{"datum":-3.04,"axis":null}}},
{"mark":{"type":"text","text":"*1,2","align":"left","baseline":"middle","fontSize":10,"fontWeight":"bold","color":"#000000"},"encoding":{"x":{"datum":1092,"axis":null},"y":{"datum":-3.0,"axis":null}}},
{"mark":{"type":"text","text":"*1; EP:","align":"left","baseline":"middle","font":"Lato","fontSize":13,"color":"#000000"},"encoding":{"x":{"datum":997,"axis":null},"y":{"datum":-3.407,"axis":null}}},
{"mark":{"type":"text","text":"pure Pd type","align":"left","baseline":"middle","font":"Lato","fontSize":13,"color":"#ff0000"},"encoding":{"x":{"datum":1066,"axis":null},"y":{"datum":-3.407,"axis":null}}},
{"mark":{"type":"text","text":"for ENEPIG,","align":"left","baseline":"middle","font":"Lato","fontSize":13,"color":"#000000"},"encoding":{"x":{"datum":1189,"axis":null},"y":{"datum":-3.407,"axis":null}}},
{"mark":{"type":"text","text":"Thin Ni ENEPIG, EPIG and IGEPIG","align":"left","baseline":"middle","font":"Lato","fontSize":13,"color":"#000000"},"encoding":{"x":{"datum":997,"axis":null},"y":{"datum":-3.61,"axis":null}}},
{"mark":{"type":"text","text":"*2; IG: mixed reaction type","align":"left","baseline":"middle","font":"Lato","fontSize":13,"color":"#000000"},"encoding":{"x":{"datum":997,"axis":null},"y":{"datum":-3.809,"axis":null}}},
{"mark":{"type":"text","text":"*3; EP:","align":"left","baseline":"middle","font":"Lato","fontSize":13,"color":"#000000"},"encoding":{"x":{"datum":997,"axis":null},"y":{"datum":-4.011,"axis":null}}},
{"mark":{"type":"text","text":"Pd-P type","align":"left","baseline":"middle","font":"Lato","fontSize":13,"color":"#ff0000"},"encoding":{"x":{"datum":1066,"axis":null},"y":{"datum":-4.011,"axis":null}}},
{"mark":{"type":"text","text":"< wide scan condition>","align":"center","baseline":"middle","font":"Lato","fontSize":15.5,"color":"#1a1a1a"},"encoding":{"x":{"datum":1129.8,"axis":null},"y":{"datum":-4.635,"axis":null}}},
{"mark":{"type":"rule","color":"#000000","strokeWidth":1.5},"encoding":{"x":{"datum":987.8,"axis":null},"x2":{"datum":1265.5},"y":{"datum":-4.822,"axis":null}}},
{"mark":{"type":"rule","color":"#000000","strokeWidth":1},"encoding":{"x":{"datum":987.8,"axis":null},"x2":{"datum":1265.5},"y":{"datum":-4.994,"axis":null}}},
{"mark":{"type":"rule","color":"#000000","strokeWidth":1.5},"encoding":{"x":{"datum":987.8,"axis":null},"x2":{"datum":1265.5},"y":{"datum":-5.675,"axis":null}}},
{"mark":{"type":"text","text":"wide scan","align":"center","baseline":"middle","fontSize":11,"color":"#000000"},"encoding":{"x":{"datum":1125.2,"axis":null},"y":{"datum":-4.908,"axis":null}}},
{"mark":{"type":"text","text":"Ep","align":"left","baseline":"middle","fontSize":11,"color":"#000000"},"encoding":{"x":{"datum":990.5,"axis":null},"y":{"datum":-5.091,"axis":null}}},
{"mark":{"type":"text","text":": 10keV","align":"left","baseline":"middle","fontSize":11,"color":"#000000"},"encoding":{"x":{"datum":1124.1,"axis":null},"y":{"datum":-5.091,"axis":null}}},
{"mark":{"type":"text","text":"Ip","align":"left","baseline":"middle","fontSize":11,"color":"#000000"},"encoding":{"x":{"datum":990.5,"axis":null},"y":{"datum":-5.271,"axis":null}}},
{"mark":{"type":"text","text":": 4X10^-8A","align":"left","baseline":"middle","fontSize":11,"color":"#000000"},"encoding":{"x":{"datum":1124.1,"axis":null},"y":{"datum":-5.271,"axis":null}}},
{"mark":{"type":"text","text":"area","align":"left","baseline":"middle","fontSize":11,"color":"#000000"},"encoding":{"x":{"datum":990.5,"axis":null},"y":{"datum":-5.453,"axis":null}}},
{"mark":{"type":"text","text":": 120*120(um²)","align":"left","baseline":"middle","fontSize":11,"color":"#000000"},"encoding":{"x":{"datum":1124.1,"axis":null},"y":{"datum":-5.453,"axis":null}}},
{"mark":{"type":"text","text":"tilting angle","align":"left","baseline":"middle","fontSize":11,"color":"#000000"},"encoding":{"x":{"datum":990.5,"axis":null},"y":{"datum":-5.61,"axis":null}}},
{"mark":{"type":"text","text":": 30°","align":"left","baseline":"middle","fontSize":11,"color":"#000000"},"encoding":{"x":{"datum":1124.1,"axis":null},"y":{"datum":-5.61,"axis":null}}},
{"mark":{"type":"text","text":"→Both Cu and Pd do not diffuse to top surface of IGEPIG.","align":"left","baseline":"middle","font":"Lato","fontSize":20,"color":"#111111"},"encoding":{"x":{"datum":-21.5,"axis":null},"y":{"datum":-4.842,"axis":null}}}
]
}
